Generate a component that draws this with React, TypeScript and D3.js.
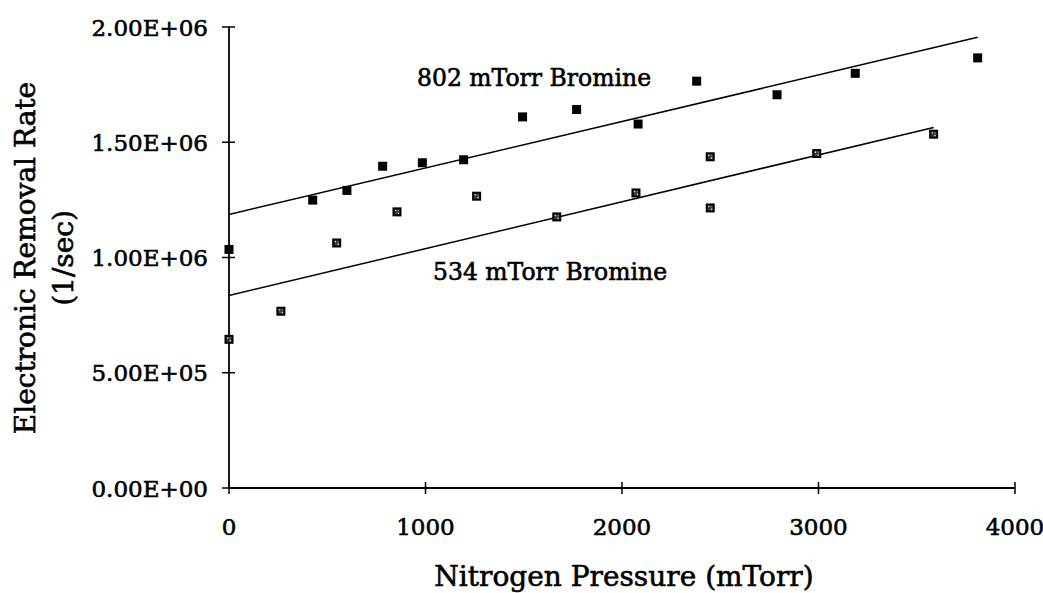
import React from "react";
import * as d3 from "d3";

// Nitrogen pressure (mTorr) and electronic removal rate (1/sec)
const n2At802 = [0, 426, 600, 782, 984, 1194, 1494, 1769, 2082, 2380, 2789, 3187, 3810];
const rate802 = [1.035e6, 1.249e6, 1.291e6, 1.396e6, 1.411e6, 1.424e6, 1.61e6, 1.642e6, 1.579e6, 1.765e6, 1.706e6, 1.799e6, 1.866e6];

const n2At534 = [0, 264, 548, 855, 1260, 1668, 2071, 2449, 2449, 2991, 3586];
const rate534 = [0.645e6, 0.767e6, 1.063e6, 1.198e6, 1.266e6, 1.176e6, 1.28e6, 1.437e6, 1.215e6, 1.451e6, 1.535e6];

// Linear trend lines: [802 mTorr, 534 mTorr]
const trendIntercepts = [1.187e6, 0.835e6];
const trendSlopes = [201.6, 203.4];

const xTicks = [0, 1000, 2000, 3000, 4000];
const yTicks = [0, 5e5, 1e6, 1.5e6, 2e6];
const yTickLabels = ["0.00E+00", "5.00E+05", "1.00E+06", "1.50E+06", "2.00E+06"];

const W = 1043;
const H = 593;
const FONT = "'DejaVu Serif', 'Liberation Serif', serif";

// heavier serif lettering
const textStyle = { stroke: "#000", strokeWidth: 0.6, fill: "#000" } as const;

export default function App() {
  const x = d3.scaleLinear().domain([0, 4000]).range([229, 1015]);
  const y = d3.scaleLinear().domain([0, 2e6]).range([488, 27]);

  const pts802 = n2At802.map((v, i) => [v, rate802[i]] as [number, number]);
  const pts534 = n2At534.map((v, i) => [v, rate534[i]] as [number, number]);

  const line = d3
    .line<[number, number]>()
    .x((d) => x(d[0]))
    .y((d) => y(d[1]));

  const trend = (k: number, xs: number[]) => {
    const x0 = 0;
    const x1 = d3.max(xs) as number;
    return [
      [x0, trendIntercepts[k] + trendSlopes[k] * x0],
      [x1, trendIntercepts[k] + trendSlopes[k] * x1],
    ] as [number, number][];
  };

  const s = 9;

  return (
    <svg
      width={W}
      height={H}
      style={{ position: "absolute", left: 0, top: 0, background: "#fff" }}
      fontFamily={FONT}
    >
      <rect width={W} height={H} fill="#fff" />

      {/* axes */}
      <line x1={x(0)} x2={x(0)} y1={y(2e6)} y2={y(0)} stroke="#000" strokeWidth={1.8} />
      <line x1={x(0)} x2={x(4000)} y1={y(0)} y2={y(0)} stroke="#000" strokeWidth={1.8} />
      {yTicks.map((t, i) => (
        <g key={"yt" + i}>
          <line x1={x(0) - 7} x2={x(0) + 6} y1={y(t)} y2={y(t)} stroke="#000" strokeWidth={1.5} />
          <text x={208} y={y(t) + 8.5} textAnchor="end" fontSize={23} {...textStyle}>
            {yTickLabels[i]}
          </text>
        </g>
      ))}
      {xTicks.map((t, i) => (
        <g key={"xt" + i}>
          <line x1={x(t)} x2={x(t)} y1={y(0) - 6} y2={y(0) + 6} stroke="#000" strokeWidth={1.5} />
          <text x={x(t)} y={535} textAnchor="middle" fontSize={23} {...textStyle}>
            {t}
          </text>
        </g>
      ))}

      {/* trend lines */}
      <path d={line(trend(0, n2At802)) || ""} fill="none" stroke="#000" strokeWidth={1.5} />
      <path d={line(trend(1, n2At534)) || ""} fill="none" stroke="#000" strokeWidth={1.5} />

      {/* 802 mTorr markers: solid squares */}
      {pts802.map((d, i) => (
        <rect key={"a" + i} x={x(d[0]) - s / 2} y={y(d[1]) - s / 2} width={s} height={s} fill="#000" />
      ))}

      {/* 534 mTorr markers: dotted squares */}
      {pts534.map((d, i) => (
        <g key={"b" + i} transform={`translate(${x(d[0])},${y(d[1])})`}>
          <rect x={-s / 2} y={-s / 2} width={s} height={s} fill="#000" />
          <rect x={-2.5} y={-2.5} width={5} height={5} fill="#3a3a3a" />
          <circle cx={-1.4} cy={-1.4} r={0.8} fill="#ddd" />
          <circle cx={1.4} cy={1.4} r={0.8} fill="#ddd" />
          <circle cx={1.4} cy={-1.4} r={0.6} fill="#999" />
        </g>
      ))}

      {/* series labels */}
      <text x={417} y={86} fontSize={23.5} {...textStyle}>802 mTorr Bromine</text>
      <text x={433} y={280} fontSize={23.5} {...textStyle}>534 mTorr Bromine</text>

      {/* axis titles */}
      <text x={624} y={586} textAnchor="middle" fontSize={28} {...textStyle}>
        Nitrogen Pressure (mTorr)
      </text>
      <text transform="translate(35,258) rotate(-90)" textAnchor="middle" fontSize={28} {...textStyle}>
        Electronic Removal Rate
      </text>
      <text transform="translate(73,258) rotate(-90)" textAnchor="middle" fontSize={28} {...textStyle}>
        (1/sec)
      </text>
    </svg>
  );
}
